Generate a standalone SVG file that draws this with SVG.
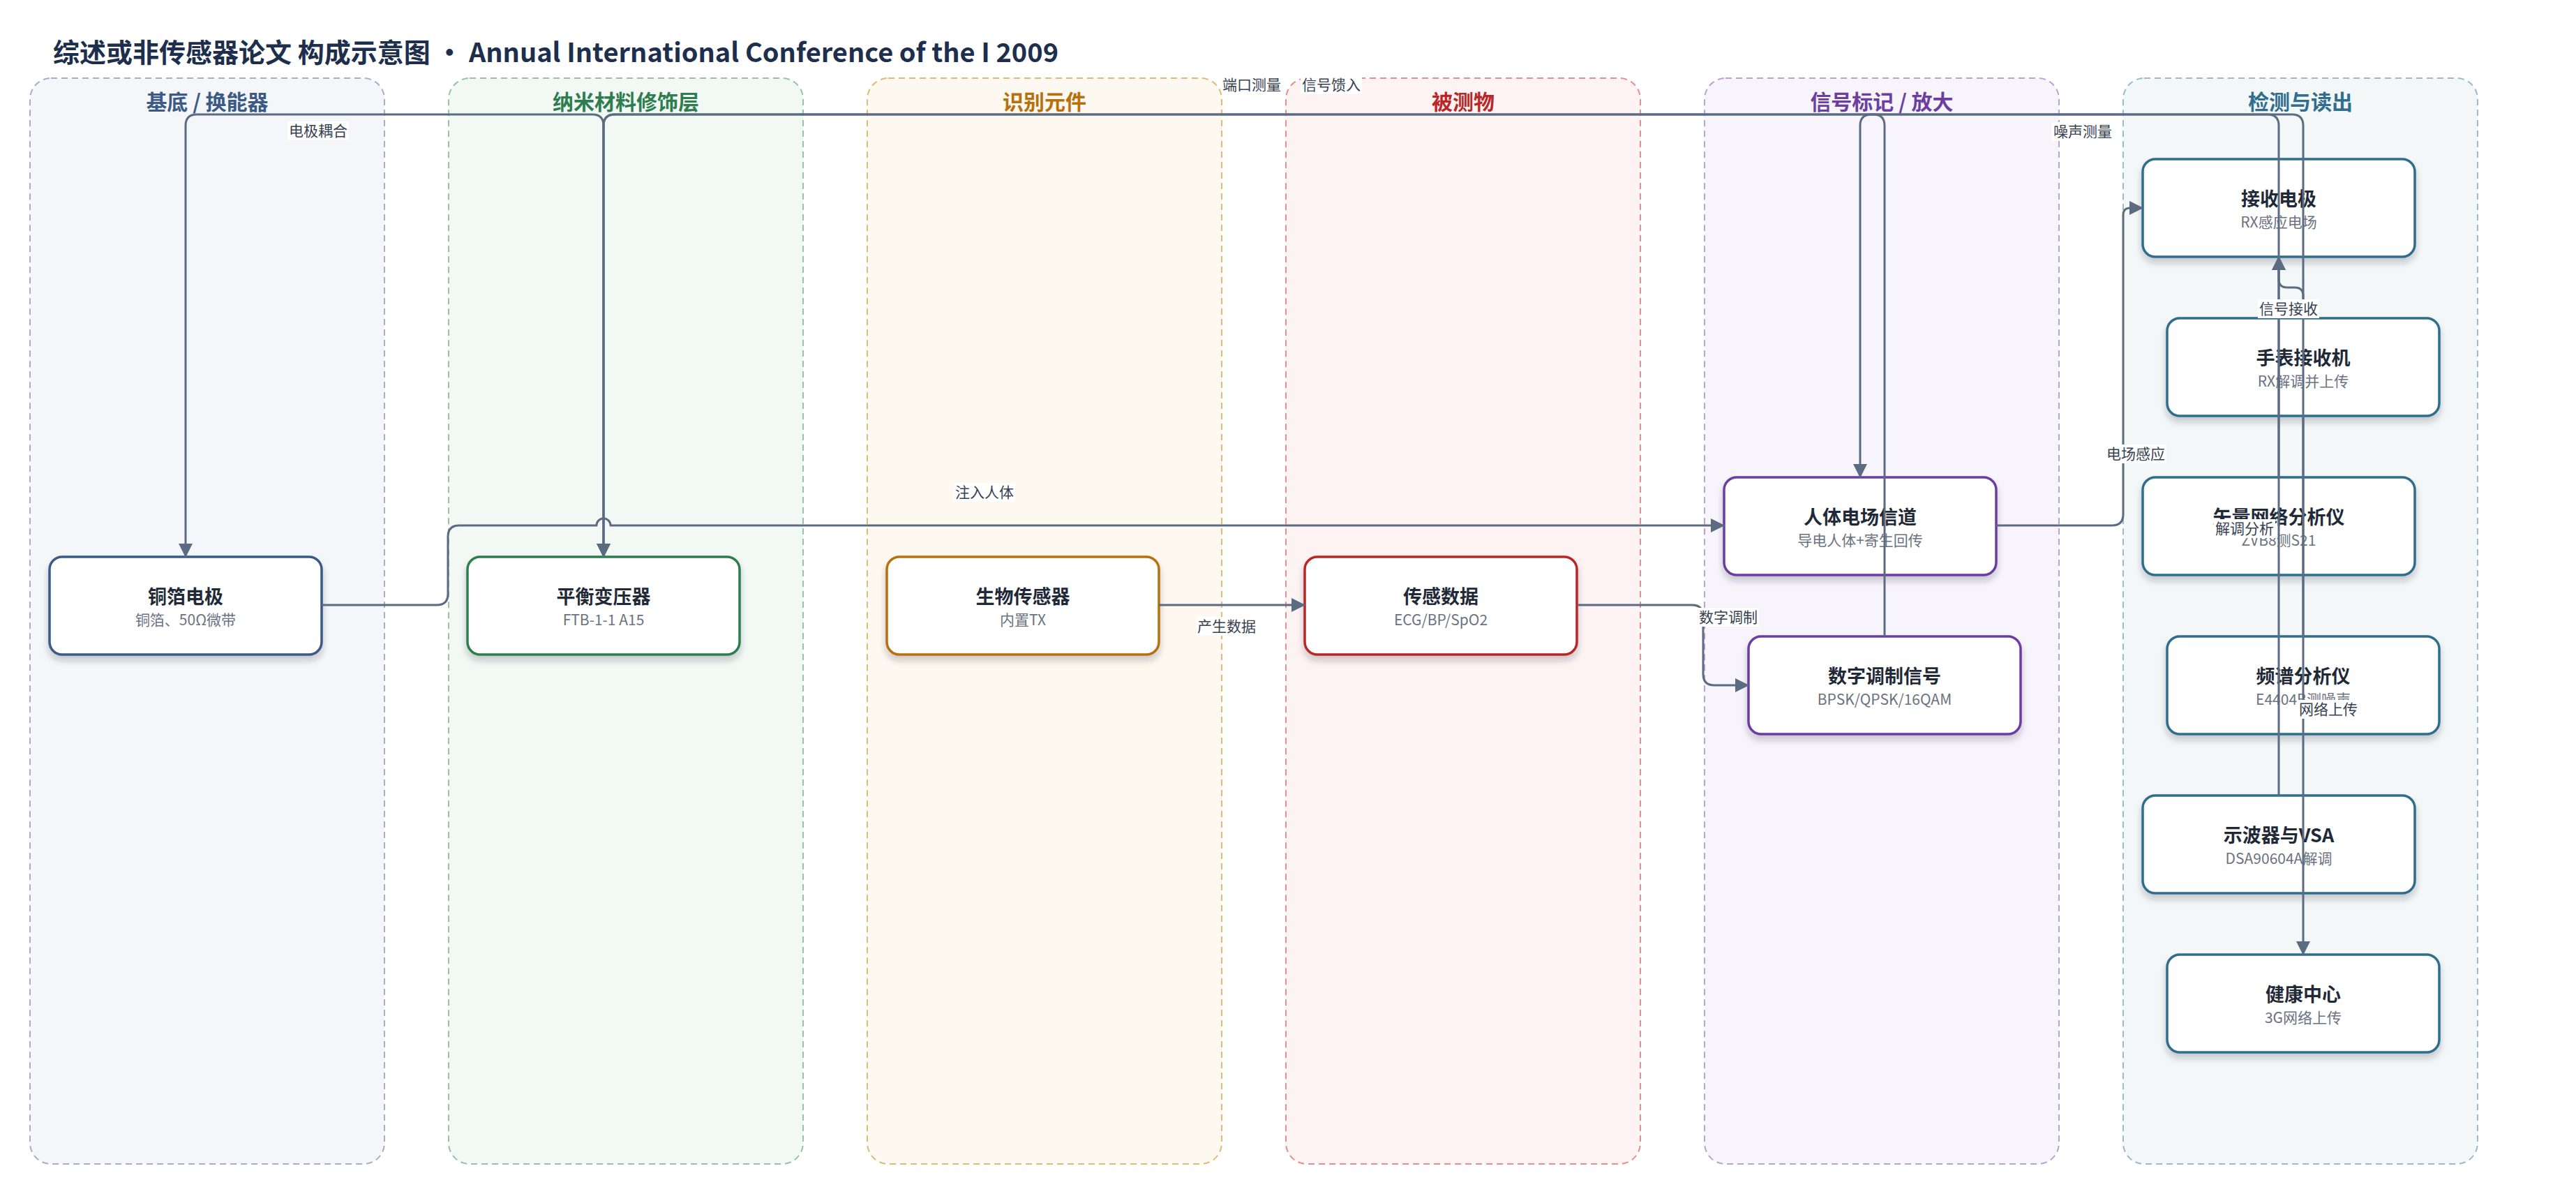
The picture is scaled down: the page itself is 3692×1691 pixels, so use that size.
<svg xmlns="http://www.w3.org/2000/svg" width="3692" height="1691" viewBox="0 0 3692 1691">
<defs>
<marker id="arr" viewBox="0 0 20 20" refX="19" refY="10" markerWidth="20" markerHeight="20" markerUnits="userSpaceOnUse" orient="auto"><path d="M0,0 L20,10 L0,20 z" fill="#5a6b82"/></marker>
<filter id="sh" x="-10%" y="-20%" width="120%" height="150%"><feDropShadow dx="0" dy="7" stdDeviation="5" flood-color="#1f2937" flood-opacity="0.22"/></filter>
<style>
text{font-family:"Noto Sans CJK SC","Noto Sans",sans-serif}
.lane{stroke-width:2;stroke-dasharray:9 6}
.lt{font-size:30px;font-weight:700;text-anchor:middle}
.node{fill:#fff;stroke-width:3.5;filter:url(#sh)}
.nt{font-size:27px;font-weight:700;fill:#1f2937;text-anchor:middle}
.ns{font-size:21px;fill:#6b7280;text-anchor:middle}
.e{fill:none;stroke:#5a6b82;stroke-width:3;stroke-linejoin:round}
.ea{marker-end:url(#arr)}
.lb{fill:#fff}
.lx{font-size:21px;fill:#374151;text-anchor:middle}
</style>
</defs>
<rect width="3692" height="1691" fill="#fff"/>
<text x="76" y="89" font-size="38" font-weight="700" fill="#1e2f4d">综述或非传感器论文 构成示意图 • Annual International Conference of the I 2009</text>

<g id="lanes">
<g id="lane1"><rect class="lane" x="43" y="112" width="508" height="1556" rx="30" fill="#f4f6fa" stroke="#a3b1c8"/><text class="lt" x="297" y="157" fill="#3b5a85">基底 / 换能器</text></g>
<g id="lane2"><rect class="lane" x="643" y="112" width="508" height="1556" rx="30" fill="#f2f8f4" stroke="#94c4a4"/><text class="lt" x="897" y="157" fill="#2e7d4e">纳米材料修饰层</text></g>
<g id="lane3"><rect class="lane" x="1243" y="112" width="508" height="1556" rx="30" fill="#fdf8f0" stroke="#e2b978"/><text class="lt" x="1497" y="157" fill="#b7700c">识别元件</text></g>
<g id="lane4"><rect class="lane" x="1843" y="112" width="508" height="1556" rx="30" fill="#fdf3f2" stroke="#e39090"/><text class="lt" x="2097" y="157" fill="#b82828">被测物</text></g>
<g id="lane5"><rect class="lane" x="2443" y="112" width="508" height="1556" rx="30" fill="#f7f4fb" stroke="#b9a2d8"/><text class="lt" x="2697" y="157" fill="#6c3ea1">信号标记 / 放大</text></g>
<g id="lane6"><rect class="lane" x="3043" y="112" width="508" height="1556" rx="30" fill="#f3f7f8" stroke="#98bccb"/><text class="lt" x="3297" y="157" fill="#2f6e8c">检测与读出</text></g>
</g>

<g id="nodes">
<g id="n-tongbo"><rect class="node" x="71" y="798" width="390" height="140" rx="18" stroke="#3b5a85"/><text class="nt" x="266" y="865">铜箔电极</text><text class="ns" x="266" y="896">铜箔、50Ω微带</text></g>
<g id="n-balun"><rect class="node" x="670" y="798" width="390" height="140" rx="18" stroke="#2e7d4e"/><text class="nt" x="865" y="865">平衡变压器</text><text class="ns" x="865" y="896">FTB-1-1 A15</text></g>
<g id="n-biosensor"><rect class="node" x="1271" y="798" width="390" height="140" rx="18" stroke="#b7700c"/><text class="nt" x="1466" y="865">生物传感器</text><text class="ns" x="1466" y="896">内置TX</text></g>
<g id="n-data"><rect class="node" x="1870" y="798" width="390" height="140" rx="18" stroke="#b82828"/><text class="nt" x="2065" y="865">传感数据</text><text class="ns" x="2065" y="896">ECG/BP/SpO2</text></g>
<g id="n-channel"><rect class="node" x="2471" y="684" width="390" height="140" rx="18" stroke="#6c3ea1"/><text class="nt" x="2666" y="751">人体电场信道</text><text class="ns" x="2666" y="782">导电人体+寄生回传</text></g>
<g id="n-mod"><rect class="node" x="2506" y="912" width="390" height="140" rx="18" stroke="#6c3ea1"/><text class="nt" x="2701" y="979">数字调制信号</text><text class="ns" x="2701" y="1010">BPSK/QPSK/16QAM</text></g>
<g id="n-rx"><rect class="node" x="3071" y="228" width="390" height="140" rx="18" stroke="#2f6e8c"/><text class="nt" x="3266" y="295">接收电极</text><text class="ns" x="3266" y="326">RX感应电场</text></g>
<g id="n-watch"><rect class="node" x="3106" y="456" width="390" height="140" rx="18" stroke="#2f6e8c"/><text class="nt" x="3301" y="523">手表接收机</text><text class="ns" x="3301" y="554">RX解调并上传</text></g>
<g id="n-vna"><rect class="node" x="3071" y="684" width="390" height="140" rx="18" stroke="#2f6e8c"/><text class="nt" x="3266" y="751">矢量网络分析仪</text><text class="ns" x="3266" y="782">ZVB8测S21</text></g>
<g id="n-sa"><rect class="node" x="3106" y="912" width="390" height="140" rx="18" stroke="#2f6e8c"/><text class="nt" x="3301" y="979">频谱分析仪</text><text class="ns" x="3301" y="1010">E4404B测噪声</text></g>
<g id="n-scope"><rect class="node" x="3071" y="1140" width="390" height="140" rx="18" stroke="#2f6e8c"/><text class="nt" x="3266" y="1207">示波器与VSA</text><text class="ns" x="3266" y="1238">DSA90604A解调</text></g>
<g id="n-health"><rect class="node" x="3106" y="1368" width="390" height="140" rx="18" stroke="#2f6e8c"/><text class="nt" x="3301" y="1435">健康中心</text><text class="ns" x="3301" y="1466">3G网络上传</text></g>
</g>

<g id="connectors">
<path class="e ea" d="M865 798 V180 Q865 164 849 164 H282 Q266 164 266 180 V798"/>
<path class="e ea" d="M2701 912 V180 Q2701 164 2685 164 H881 Q865 164 865 180 V798"/>
<path class="e ea" d="M3266 684 V180 Q3266 164 3250 164 H881 Q865 164 865 180 V798"/>
<path class="e ea" d="M3301 912 V180 Q3301 164 3285 164 H2682 Q2666 164 2666 180 V684"/>
<path class="e ea" d="M461 867 H626 Q642 867 642 851 V769 Q642 753 658 753 H855 A10 10 0 0 1 875 753 H2471"/>
<path class="e ea" d="M1661 867 H1870"/>
<path class="e ea" d="M2261 867 H2425 Q2441 867 2441 883 V966 Q2441 982 2457 982 H2506"/>
<path class="e ea" d="M2861 753 H3027 Q3043 753 3043 737 V308 Q3043 298 3053 298 H3071"/>
<path class="e ea" d="M3301 456 V424 Q3301 412 3289 412 H3278 Q3266 412 3266 400 V368"/>
<path class="e ea" d="M3266 1140 V368"/>
<path class="e ea" d="M3301 596 V1368"/>
<g id="labels">
<rect class="lb" x="412" y="174" width="88" height="27"/><text class="lx" x="456" y="195">电极耦合</text>
<rect class="lb" x="1751" y="108" width="87" height="27"/><text class="lx" x="1794" y="129">端口测量</text>
<rect class="lb" x="1864" y="108" width="88" height="27"/><text class="lx" x="1908" y="129">信号馈入</text>
<rect class="lb" x="2941" y="175" width="88" height="27"/><text class="lx" x="2985" y="196">噪声测量</text>
<rect class="lb" x="1367" y="692" width="88" height="27"/><text class="lx" x="1411" y="713">注入人体</text>
<rect class="lb" x="1714" y="884" width="88" height="27"/><text class="lx" x="1758" y="905">产生数据</text>
<rect class="lb" x="2433" y="871" width="88" height="27"/><text class="lx" x="2477" y="892">数字调制</text>
<rect class="lb" x="3017" y="637" width="88" height="27"/><text class="lx" x="3061" y="658">电场感应</text>
<rect class="lb" x="3173" y="744" width="88" height="27"/><text class="lx" x="3217" y="765">解调分析</text>
<rect class="lb" x="3293" y="1003" width="88" height="27"/><text class="lx" x="3337" y="1024">网络上传</text>
<rect class="lb" x="3236" y="429" width="88" height="27"/><text class="lx" x="3280" y="450">信号接收</text>
</g>
</g>
</svg>
